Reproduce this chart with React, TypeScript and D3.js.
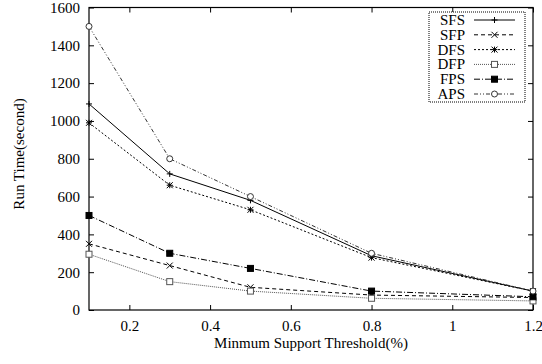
import React, { useEffect, useRef } from "react";
import * as d3 from "d3";

// support thresholds (%)
const thresholds = [0.1, 0.3, 0.5, 0.8, 1.2];

// run times in seconds
const sfs = [1090, 720, 580, 287, 100];
const sfp = [350, 235, 120, 79, 66];
const dfs = [990, 660, 530, 277, 100];
const dfp = [295, 150, 100, 62, 48];
const fps = [500, 300, 220, 100, 70];
const aps = [1500, 800, 600, 300, 100];

const seriesNames = ["SFS", "SFP", "DFS", "DFP", "FPS", "APS"];
const seriesValues = [sfs, sfp, dfs, dfp, fps, aps];

const xTicks = [0.2, 0.4, 0.6, 0.8, 1, 1.2];
const yTicks = [0, 200, 400, 600, 800, 1000, 1200, 1400, 1600];

type Style = { dash: string; color: string; marker: string };
const styles: Style[] = [
  { dash: "", color: "#000", marker: "plus" },
  { dash: "4,3", color: "#000", marker: "cross" },
  { dash: "2,2", color: "#000", marker: "star" },
  { dash: "1,1", color: "#555", marker: "openSquare" },
  { dash: "6,2,1,2", color: "#000", marker: "filledSquare" },
  { dash: "4,2,1,2,1,2", color: "#333", marker: "circle" },
];

const App: React.FC = () => {
  const svgRef = useRef<SVGSVGElement | null>(null);

  useEffect(() => {
    const width = 542;
    const height = 364;
    const margin = { top: 7.5, right: 9, bottom: 54, left: 89 };
    const innerWidth = width - margin.left - margin.right;
    const innerHeight = height - margin.top - margin.bottom;

    const svg = d3.select(svgRef.current).attr("width", width).attr("height", height);
    svg.selectAll("*").remove();
    svg.append("rect").attr("width", width).attr("height", height).attr("fill", "#fff");

    const g = svg.append("g").attr("transform", `translate(${margin.left}, ${margin.top})`);

    const x = d3.scaleLinear().domain([0.1, 1.2]).range([0, innerWidth]);
    const y = d3.scaleLinear().domain([0, 1600]).range([innerHeight, 0]);

    const font = "Liberation Serif";
    const tickLen = 5;

    // frame
    g.append("rect")
      .attr("width", innerWidth)
      .attr("height", innerHeight)
      .attr("fill", "none")
      .attr("stroke", "#000")
      .attr("stroke-width", 1.2);

    // bottom/left axes with inward ticks, mirrored on top/right
    const xAxis = d3
      .axisBottom(x)
      .tickValues(xTicks)
      .tickSizeInner(-tickLen)
      .tickSizeOuter(0)
      .tickPadding(10)
      .tickFormat((d) => String(+d));
    const xg = g.append("g").attr("transform", `translate(0, ${innerHeight})`).call(xAxis);

    const yAxis = d3
      .axisLeft(y)
      .tickValues(yTicks)
      .tickSizeInner(-tickLen)
      .tickSizeOuter(0)
      .tickPadding(9)
      .tickFormat((d) => String(+d));
    const yg = g.append("g").call(yAxis);

    const xTop = d3.axisTop(x).tickValues(xTicks).tickSizeInner(-tickLen).tickSizeOuter(0).tickFormat(() => "");
    const xtg = g.append("g").call(xTop);
    const yRight = d3.axisRight(y).tickValues(yTicks).tickSizeInner(-tickLen).tickSizeOuter(0).tickFormat(() => "");
    const yrg = g.append("g").attr("transform", `translate(${innerWidth}, 0)`).call(yRight);

    [xg, yg, xtg, yrg].forEach((a) => {
      a.attr("font-family", font).attr("font-size", 15);
      a.select(".domain").remove();
      a.selectAll("line").attr("stroke", "#000");
      a.selectAll("text").attr("fill", "#000");
    });

    // axis titles
    svg
      .append("text")
      .attr("x", 311)
      .attr("y", 348)
      .attr("text-anchor", "middle")
      .attr("font-family", font)
      .attr("font-size", 15)
      .text("Minmum Support Threshold(%)");

    svg
      .append("text")
      .attr("transform", `translate(24, 154) rotate(-90)`)
      .attr("text-anchor", "middle")
      .attr("font-family", font)
      .attr("font-size", 15)
      .text("Run Time(second)");

    const drawMarker = (sel: d3.Selection<SVGGElement, unknown, null, undefined>, kind: string, color: string) => {
      const s = 3;
      if (kind === "plus") {
        sel.append("path").attr("d", `M${-s},0H${s}M0,${-s}V${s}`).attr("stroke", color).attr("fill", "none");
      } else if (kind === "cross") {
        sel.append("path").attr("d", `M${-s},${-s}L${s},${s}M${-s},${s}L${s},${-s}`).attr("stroke", color).attr("fill", "none");
      } else if (kind === "star") {
        sel
          .append("path")
          .attr("d", `M${-s},0H${s}M0,${-s}V${s}M${-s},${-s}L${s},${s}M${-s},${s}L${s},${-s}`)
          .attr("stroke", color)
          .attr("fill", "none");
      } else if (kind === "openSquare") {
        sel.append("rect").attr("x", -s).attr("y", -s).attr("width", 2 * s).attr("height", 2 * s).attr("fill", "#fff").attr("stroke", color);
      } else if (kind === "filledSquare") {
        sel.append("rect").attr("x", -s).attr("y", -s).attr("width", 2 * s).attr("height", 2 * s).attr("fill", "#000").attr("stroke", "#000");
      } else if (kind === "circle") {
        sel.append("circle").attr("r", s).attr("fill", "#fff").attr("stroke", color);
      }
    };

    const line = d3
      .line<number>()
      .x((_, i) => x(thresholds[i]))
      .y((d) => y(d));

    seriesValues.forEach((vals, si) => {
      const st = styles[si];
      g.append("path")
        .datum(vals)
        .attr("fill", "none")
        .attr("stroke", st.color)
        .attr("stroke-width", 1)
        .attr("stroke-dasharray", st.dash)
        .attr("d", line);
      vals.forEach((v, i) => {
        const m = g.append("g").attr("transform", `translate(${x(thresholds[i])}, ${y(v)})`);
        drawMarker(m, st.marker, st.color);
      });
    });

    // legend
    const lx = 429;
    const ly = 12;
    const rowH = 14.8;
    svg
      .append("rect")
      .attr("x", lx)
      .attr("y", ly)
      .attr("width", 96)
      .attr("height", 90)
      .attr("fill", "#fff")
      .attr("stroke", "#000")
      .attr("stroke-dasharray", "1,1");

    seriesNames.forEach((name, si) => {
      const st = styles[si];
      const cy = ly + 8 + si * rowH;
      svg
        .append("text")
        .attr("x", 465)
        .attr("y", cy + 5)
        .attr("text-anchor", "end")
        .attr("font-family", font)
        .attr("font-size", 15)
        .text(name);
      svg
        .append("line")
        .attr("x1", 474)
        .attr("x2", 515)
        .attr("y1", cy)
        .attr("y2", cy)
        .attr("stroke", st.color)
        .attr("stroke-dasharray", st.dash);
      const m = svg.append("g").attr("transform", `translate(494.5, ${cy})`);
      drawMarker(m, st.marker, st.color);
    });
  }, []);

  return <svg ref={svgRef} style={{ position: "absolute", left: 0, top: 0 }}></svg>;
};

export default App;
